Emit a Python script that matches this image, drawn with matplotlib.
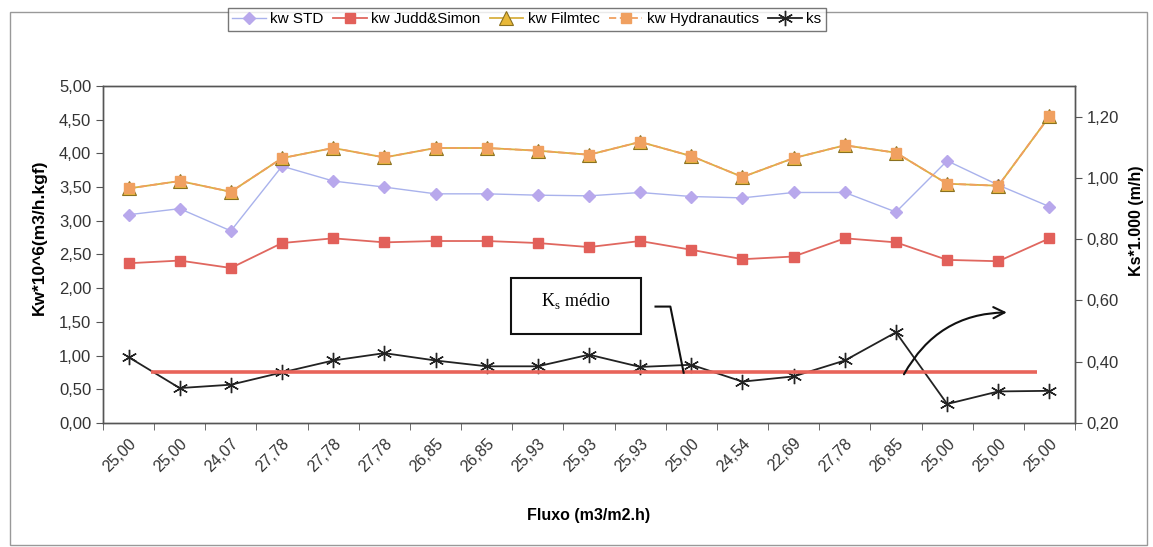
import numpy as np
import matplotlib
matplotlib.use("Agg")
import matplotlib.pyplot as plt
from matplotlib.patches import Rectangle

plt.rcParams['font.family'] = ['Liberation Sans', 'DejaVu Sans']

# x categories (flux values, read as labels)
FLUXO = ["25,00", "25,00", "24,07", "27,78", "27,78", "27,78", "26,85",
         "26,85", "25,93", "25,93", "25,93", "25,00", "24,54", "22,69",
         "27,78", "26,85", "25,00", "25,00", "25,00"]

# left axis series (Kw*10^6)
KW_STD = [3.09, 3.18, 2.85, 3.81, 3.59, 3.50, 3.40, 3.40, 3.38, 3.37,
          3.42, 3.36, 3.34, 3.42, 3.42, 3.13, 3.89, 3.53, 3.21]
KW_JUDD = [2.37, 2.41, 2.30, 2.67, 2.74, 2.68, 2.70, 2.70, 2.67, 2.61,
           2.70, 2.57, 2.43, 2.47, 2.74, 2.68, 2.42, 2.40, 2.74]
KW_FILMTEC = [3.48, 3.59, 3.43, 3.93, 4.08, 3.94, 4.08, 4.08, 4.04, 3.98,
              4.17, 3.96, 3.65, 3.93, 4.12, 4.01, 3.55, 3.52, 4.55]
KW_HYDRA = [3.48, 3.59, 3.43, 3.93, 4.08, 3.94, 4.08, 4.08, 4.04, 3.98,
            4.17, 3.96, 3.65, 3.93, 4.12, 4.01, 3.55, 3.52, 4.55]

# right axis series (Ks*1.000)
KS = [0.415, 0.314, 0.325, 0.365, 0.404, 0.428, 0.404, 0.385, 0.385, 0.423,
      0.383, 0.390, 0.335, 0.352, 0.404, 0.496, 0.262, 0.303, 0.305]
KS_MEDIO = 0.365


def comma(v):
    return ("%.2f" % v).replace('.', ',')


def main():
    x = np.arange(len(FLUXO))
    fig = plt.figure(figsize=(11.53, 5.47), dpi=100)
    ax = fig.add_axes([0.0893, 0.2267, 0.8431, 0.6161])
    ax2 = ax.twinx()

    ax.plot(x, KW_STD, color='#a9b2ec', lw=1, marker='D', ms=6.5,
            mfc='#b8a8ec', mec='#b8a8ec', label='kw STD')
    ax.plot(x, KW_JUDD, color='#e0675f', lw=1.3, marker='s', ms=7.5,
            mfc='#e2605a', mec='#e2605a', label='kw Judd&Simon')
    ax.plot(x, KW_FILMTEC, color='#d8b040', lw=1.3, marker='^', ms=9.5,
            mfc='#e8b838', mec='#8a7020', mew=0.8, label='kw Filmtec')
    ax.plot(x, KW_HYDRA, color='#f0a060', lw=1.3, ls=(0, (4, 2)),
            marker='s', ms=7.5, mfc='#f0a060', mec='#f0a060',
            label='kw Hydranautics')

    ax2.plot(x, KS, color='#222222', lw=1.3, marker=(6, 2, 0), ms=11,
             mec='#222222', mew=1.0, label='ks')
    ax2.plot([0.44, 17.76], [KS_MEDIO, KS_MEDIO], color='#e8645a', lw=2.6,
             solid_capstyle='butt')

    ax.set_xlim(-0.5, len(FLUXO) - 0.5)
    ax.set_ylim(0, 5)
    ax2.set_ylim(0.2, 1.3)
    left_ticks = np.arange(0, 5.01, 0.5)
    right_ticks = np.arange(0.2, 1.21, 0.2)
    ax.set_yticks(left_ticks)
    ax.set_yticklabels([comma(v) for v in left_ticks])
    ax2.set_yticks(right_ticks)
    ax2.set_yticklabels([comma(v) for v in right_ticks])

    ax.set_xticks(x)
    ax.set_xticklabels(FLUXO, rotation=45, ha='right', va='top',
                       rotation_mode='anchor')
    ax.set_xticks(np.arange(-0.5, len(FLUXO)), minor=True)
    ax.tick_params(axis='x', which='major', length=0, pad=9, labelsize=11.5,
                   colors='#333333')
    ax.tick_params(axis='x', which='minor', length=5, color='#555555')
    ax.tick_params(axis='y', length=5, labelsize=12, colors='#333333',
                   color='#555555')
    ax2.tick_params(axis='y', length=5, labelsize=12, colors='#333333',
                    color='#555555')
    for a in (ax, ax2):
        for s in a.spines.values():
            s.set_color('#555555')
            s.set_linewidth(1)

    ax.set_ylabel('Kw*10^6(m3/h.kgf)', fontweight='bold', fontsize=12.5)
    ax.yaxis.set_label_coords(-0.058, 0.55)
    ax2.set_ylabel('Ks*1.000 (m/h)', fontweight='bold', fontsize=11.5)
    ax2.yaxis.set_label_coords(1.056, 0.6)
    ax.set_xlabel('Fluxo (m3/m2.h)', fontweight='bold', fontsize=11.5,
                  labelpad=24)

    # Ks medio callout box
    ax2.add_patch(Rectangle((7.47, 0.489), 2.54, 0.183, fill=False,
                            ec='#111111', lw=1.5, zorder=5))
    ax2.text(8.74, 0.597, r'K$_\mathregular{s}$ médio', ha='center',
             va='center', fontsize=13, family=['Liberation Serif'], zorder=6)
    ax2.plot([10.30, 10.59, 10.85], [0.580, 0.580, 0.364], color='#111111',
             lw=1.5, zorder=6)
    ax2.annotate('', xy=(17.22, 0.561), xytext=(15.13, 0.351),
                 arrowprops=dict(arrowstyle='->,head_length=0.8,head_width=0.4',
                                 color='#111111', lw=1.5,
                                 connectionstyle='arc3,rad=-0.3'),
                 zorder=6)

    handles = ax.get_lines() + [ax2.get_lines()[0]]
    labels = [h.get_label() for h in handles]
    leg = fig.legend(handles, labels, loc='center',
                     bbox_to_anchor=(0.457, 0.965), ncol=5, fontsize=11,
                     frameon=True, fancybox=False, edgecolor='#555555',
                     handlelength=2.2, columnspacing=0.6, handletextpad=0.3,
                     borderpad=0.3)
    leg.get_frame().set_linewidth(1)

    fig.add_artist(Rectangle((0.0087, 0.004), 0.9863, 0.974, fill=False,
                             ec='#999999', lw=1, transform=fig.transFigure))

    fig.savefig('out.png', dpi=100)


if __name__ == "__main__":
    main()
